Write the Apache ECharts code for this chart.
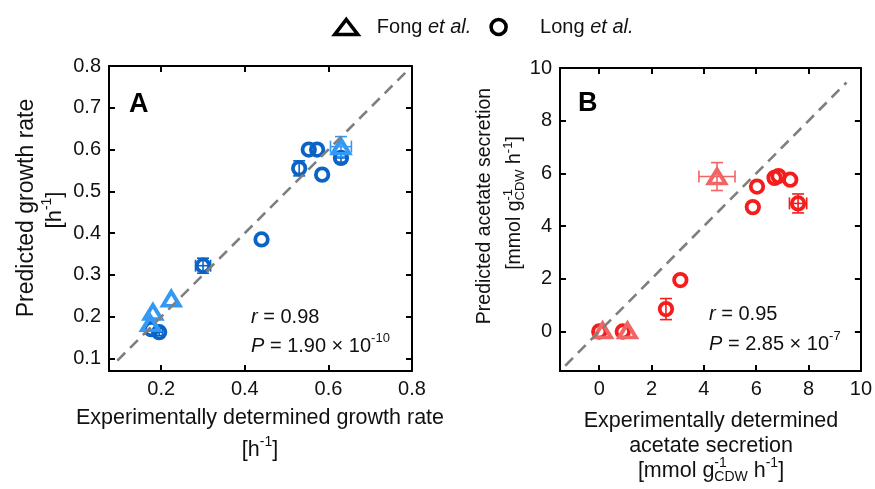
<!DOCTYPE html>
<html>
<head>
<meta charset="utf-8">
<script src="https://cdn.jsdelivr.net/npm/echarts@6/dist/echarts.min.js"></script>
<style>html,body{margin:0;padding:0;background:#fff}#c{width:875px;height:489px}</style>
</head>
<body>
<div id="c"></div>
<script>
// ---------- Data ----------
// Panel A: growth rate [h^-1]
const aLongX    = [0.44, 0.30, 0.53, 0.553, 0.573, 0.585, 0.63, 0.195, 0.176];
const aLongY    = [0.385, 0.322, 0.555, 0.600, 0.600, 0.540, 0.580, 0.163, 0.170];
const aLongXErr = [0, 0.018, 0, 0, 0, 0, 0.012, 0.008, 0];
const aLongYErr = [0, 0.018, 0.018, 0, 0, 0, 0.010, 0.008, 0];
const aFongX    = [0.63, 0.224, 0.18, 0.174];
const aFongY    = [0.607, 0.243, 0.211, 0.184];
const aFongXErr = [0.025, 0, 0, 0];
const aFongYErr = [0.024, 0, 0, 0];
// Panel B: acetate secretion [mmol gCDW^-1 h^-1]
const bLongX    = [0, 0.9, 2.55, 3.1, 5.87, 6.03, 6.7, 6.85, 7.3, 7.6];
const bLongY    = [0, 0, 0.85, 1.95, 4.72, 5.5, 5.83, 5.9, 5.76, 4.86];
const bLongXErr = [0, 0, 0, 0, 0, 0, 0, 0, 0, 0.33];
const bLongYErr = [0, 0, 0.4, 0, 0, 0, 0, 0, 0, 0.36];
const bFongX    = [4.5, 0.13, 1.08];
const bFongY    = [5.88, 0.04, 0.04];
const bFongXErr = [0.69, 0, 0];
const bFongYErr = [0.53, 0, 0];
// y = x reference lines
const diagA = [0.095, 0.79];
const diagB = [-1.3, 9.45];
// Ticks
const aXTicks = [0.2, 0.4, 0.6, 0.8];
const aYTicks = [0.1, 0.2, 0.3, 0.4, 0.5, 0.6, 0.7, 0.8];
const bXTicks = [0, 2, 4, 6, 8, 10];
const bYTicks = [0, 2, 4, 6, 8, 10];
const legendNames = ['Fong et al.', 'Long et al.'];
const stats = {A: {r: '0.98', p: '1.90', e: '-10'}, B: {r: '0.95', p: '2.85', e: '-7'}};

// ---------- Styles ----------
const FONT = '"Liberation Sans", Arial, sans-serif';
const C = {aLong: '#0a64c6', aFong: '#3399f5', bLong: '#f51c1c', bFong: '#f26565'};

const ctx = document.createElement('canvas').getContext('2d');
function measure(t, size, italic, bold) {
  ctx.font = (italic ? 'italic ' : '') + (bold ? 'bold ' : '') + size + 'px ' + FONT;
  return ctx.measureText(t).width;
}
// parts: {t, k:'n'|'i'|'sup'|'sub', stack}
function richLabel(parts, x, y, rot, align, size) {
  size = size || 20;
  const small = Math.round(size * 0.65);
  let cx = 0, children = [], stackStart = null, stackW = 0;
  parts.forEach(p => {
    const fs = (p.k === 'sup' || p.k === 'sub') ? small : size;
    const it = p.k === 'i';
    const w = measure(p.t, fs, it, false);
    const dy = p.k === 'sup' ? -size * 0.36 : (p.k === 'sub' ? size * 0.3 : 0);
    let px = cx;
    if (stackStart !== null) { px = stackStart; }
    children.push({type: 'text', x: px, y: dy, style: {text: p.t, fontSize: fs, fontFamily: FONT,
      fontStyle: it ? 'italic' : 'normal', fill: '#111', align: 'left', verticalAlign: 'middle'}});
    if (p.stack) { stackStart = cx; stackW = w; }
    else if (stackStart !== null) { cx = stackStart + Math.max(stackW, w); stackStart = null; }
    else cx += w;
  });
  const off = align === 'center' ? -cx / 2 : 0;
  children.forEach(ch => ch.x += off);
  return {type: 'group', x: x, y: y, rotation: rot || 0, children: children};
}

function errData(xs, ys, ex, ey) { return xs.map((x, i) => [x, ys[i], ex[i], ey[i]]); }
function ptData(xs, ys) { return xs.map((x, i) => [x, ys[i]]); }

function errSeries(data, color, xi, yi) {
  return {
    type: 'custom', xAxisIndex: xi, yAxisIndex: yi, data: data, z: 2, silent: true,
    encode: {x: 0, y: 1},
    renderItem: function (params, api) {
      const x = api.value(0), y = api.value(1), ex = api.value(2), ey = api.value(3);
      const cap = 6, st = {stroke: color, lineWidth: 1.6};
      const ch = [];
      if (ex > 0) {
        const l = api.coord([x - ex, y]), r = api.coord([x + ex, y]);
        ch.push({type: 'line', shape: {x1: l[0], y1: l[1], x2: r[0], y2: r[1]}, style: st});
        ch.push({type: 'line', shape: {x1: l[0], y1: l[1] - cap, x2: l[0], y2: l[1] + cap}, style: st});
        ch.push({type: 'line', shape: {x1: r[0], y1: r[1] - cap, x2: r[0], y2: r[1] + cap}, style: st});
      }
      if (ey > 0) {
        const b = api.coord([x, y - ey]), t = api.coord([x, y + ey]);
        ch.push({type: 'line', shape: {x1: b[0], y1: b[1], x2: t[0], y2: t[1]}, style: st});
        ch.push({type: 'line', shape: {x1: b[0] - cap, y1: b[1], x2: b[0] + cap, y2: b[1]}, style: st});
        ch.push({type: 'line', shape: {x1: t[0] - cap, y1: t[1], x2: t[0] + cap, y2: t[1]}, style: st});
      }
      return {type: 'group', children: ch};
    }
  };
}
function scatter(name, data, color, sym, xi, yi) {
  return {
    type: 'scatter', name: name, xAxisIndex: xi, yAxisIndex: yi, data: data, z: 3,
    symbol: sym, symbolSize: sym === 'circle' ? 12.5 : [17, 14],
    itemStyle: {color: 'rgba(0,0,0,0)', borderColor: color, borderWidth: 3.8, opacity: 1}
  };
}
function diag(d, xi, yi) {
  return {type: 'line', xAxisIndex: xi, yAxisIndex: yi, data: [[d[0], d[0]], [d[1], d[1]]],
    symbol: 'none', silent: true, z: 4,
    lineStyle: {color: '#7f7f7f', width: 2.6, type: [11, 7]}};
}
const axLine = {show: true, onZero: false, lineStyle: {color: '#000', width: 2}};
function axis(grid, pos, min, max, ticks, showLabels, fmt) {
  return {
    type: 'value', gridIndex: grid, position: pos, min: min, max: max,
    axisLine: axLine,
    axisTick: {show: true, inside: true, length: 6, customValues: ticks, lineStyle: {color: '#000', width: 2}},
    axisLabel: {show: showLabels, customValues: ticks, formatter: fmt, fontSize: 20, fontFamily: FONT, color: '#111', margin: 8},
    splitLine: {show: false}
  };
}
const f1 = v => v.toFixed(1), f0 = v => String(Math.round(v));

const chart = echarts.init(document.getElementById('c'), null, {renderer: 'canvas'});
const option = {
  backgroundColor: '#fff',
  animation: false,
  grid: [
    {left: 109, top: 66, width: 303, height: 305},
    {left: 560, top: 68, width: 303, height: 303}
  ],
  xAxis: [
    axis(0, 'bottom', 0.075, 0.8, aXTicks, true, f1),
    axis(0, 'top', 0.075, 0.8, aXTicks, false, f1),
    axis(1, 'bottom', -1.5, 10, bXTicks, true, f0),
    axis(1, 'top', -1.5, 10, bXTicks, false, f0)
  ],
  yAxis: [
    axis(0, 'left', 0.07, 0.8, aYTicks, true, f1),
    axis(0, 'right', 0.07, 0.8, aYTicks, false, f1),
    axis(1, 'left', -1.5, 10, bYTicks, true, f0),
    axis(1, 'right', -1.5, 10, bYTicks, false, f0)
  ],
  legend: {
    left: 333, top: 17, padding: 0, itemWidth: 23, itemHeight: 15, itemGap: 18,
    selectedMode: false,
    data: [
      {name: legendNames[0], icon: 'triangle', itemStyle: {color: 'rgba(0,0,0,0)', borderColor: '#000', borderWidth: 3.6}},
      {name: legendNames[1], icon: 'circle', itemStyle: {color: 'rgba(0,0,0,0)', borderColor: '#000', borderWidth: 3.6}}
    ],
    formatter: n => (n === legendNames[0] ? '{a|' : '{b|') + n.split(' ')[0] + ' }{i|' + n.split(' ').slice(1).join(' ') + '}',
    textStyle: {fontSize: 20, fontFamily: FONT, color: '#111',
      rich: {
        a: {fontSize: 20, fontFamily: FONT, color: '#111', padding: [0, 0, 0, 14]},
        b: {fontSize: 20, fontFamily: FONT, color: '#111', padding: [0, 0, 0, 25]},
        i: {fontSize: 20, fontFamily: FONT, fontStyle: 'italic', color: '#111'}
      }}
  },
  series: [
    errSeries(errData(aLongX, aLongY, aLongXErr, aLongYErr), C.aLong, 0, 0),
    errSeries(errData(aFongX, aFongY, aFongXErr, aFongYErr), C.aFong, 0, 0),
    scatter(legendNames[1], ptData(aLongX, aLongY), C.aLong, 'circle', 0, 0),
    scatter(legendNames[0], ptData(aFongX, aFongY), C.aFong, 'triangle', 0, 0),
    diag(diagA, 0, 0),
    errSeries(errData(bLongX, bLongY, bLongXErr, bLongYErr), C.bLong, 2, 2),
    errSeries(errData(bFongX, bFongY, bFongXErr, bFongYErr), C.bFong, 2, 2),
    scatter(legendNames[1], ptData(bLongX, bLongY), C.bLong, 'circle', 2, 2),
    scatter(legendNames[0], ptData(bFongX, bFongY), C.bFong, 'triangle', 2, 2),
    diag(diagB, 2, 2)
  ],
  graphic: [
    {type: 'text', x: 129, y: 105, style: {text: 'A', fontSize: 27, fontWeight: 'bold', fontFamily: FONT, fill: '#000', verticalAlign: 'middle'}},
    {type: 'text', x: 578, y: 104, style: {text: 'B', fontSize: 27, fontWeight: 'bold', fontFamily: FONT, fill: '#000', verticalAlign: 'middle'}},
    richLabel([{t: 'r', k: 'i'}, {t: ' = ' + stats.A.r, k: 'n'}], 251, 317, 0, 'left'),
    richLabel([{t: 'P', k: 'i'}, {t: ' = ' + stats.A.p + ' \u00d7 10', k: 'n'}, {t: stats.A.e, k: 'sup'}], 251, 346, 0, 'left'),
    richLabel([{t: 'r', k: 'i'}, {t: ' = ' + stats.B.r, k: 'n'}], 709, 314, 0, 'left'),
    richLabel([{t: 'P', k: 'i'}, {t: ' = ' + stats.B.p + ' \u00d7 10', k: 'n'}, {t: stats.B.e, k: 'sup'}], 709, 344, 0, 'left'),
    // Axis titles A
    richLabel([{t: 'Predicted growth rate', k: 'n'}], 27, 208, Math.PI / 2, 'center', 23),
    richLabel([{t: '[h', k: 'n'}, {t: '-1', k: 'sup'}, {t: ']', k: 'n'}], 55, 210, Math.PI / 2, 'center', 22),
    richLabel([{t: 'Experimentally determined growth rate', k: 'n'}], 260, 418.5, 0, 'center', 21.5),
    richLabel([{t: '[h', k: 'n'}, {t: '-1', k: 'sup'}, {t: ']', k: 'n'}], 260, 450, 0, 'center', 21.5),
    // Axis titles B
    richLabel([{t: 'Predicted acetate secretion', k: 'n'}], 485, 206, Math.PI / 2, 'center', 19.5),
    richLabel([{t: '[mmol g', k: 'n'}, {t: '-1', k: 'sup', stack: true}, {t: 'CDW', k: 'sub'}, {t: ' h', k: 'n'}, {t: '-1', k: 'sup'}, {t: ']', k: 'n'}], 515, 203, Math.PI / 2, 'center', 19.5),
    richLabel([{t: 'Experimentally determined', k: 'n'}], 711, 421.5, 0, 'center', 21.5),
    richLabel([{t: 'acetate secretion', k: 'n'}], 711, 446.5, 0, 'center', 21.5),
    richLabel([{t: '[mmol g', k: 'n'}, {t: '-1', k: 'sup', stack: true}, {t: 'CDW', k: 'sub'}, {t: ' h', k: 'n'}, {t: '-1', k: 'sup'}, {t: ']', k: 'n'}], 711, 471, 0, 'center', 21.5)
  ]
};
chart.setOption(option);
</script>
</body>
</html>
